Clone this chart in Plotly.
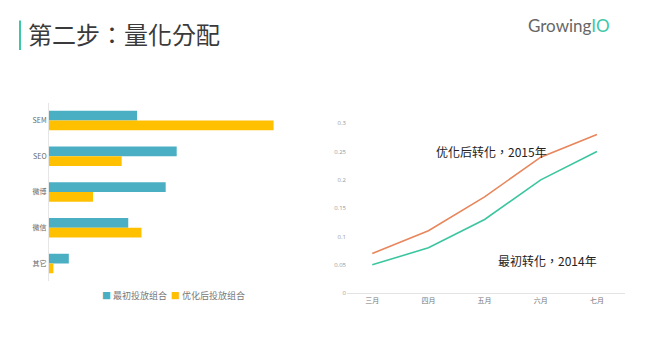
import plotly.graph_objects as go

# Channel mix (share of budget, %)
channels = ["SEM", "SEO", "微博", "微信", "其它"]
initial_mix = [20, 29, 26.5, 18, 4.5]
optimized_mix = [51, 16.5, 10, 21, 1]
mix_names = ["最初投放组合", "优化后投放组合"]

# Monthly conversion rate
months = ["三月", "四月", "五月", "六月", "七月"]
conv_2014 = [0.05, 0.08, 0.13, 0.20, 0.25]
conv_2015 = [0.07, 0.11, 0.17, 0.24, 0.28]
y_ticks = [0, 0.05, 0.1, 0.15, 0.2, 0.25, 0.3]
y_tick_text = ["0", "0.05", "0.1", "0.15", "0.2", "0.25", "0.3"]

TEAL_BAR = "#4BAFC4"
GOLD_BAR = "#FFC000"
LINE_2015 = "#E8865C"
LINE_2014 = "#3CC6A0"
BRAND = "#3CC8A8"
CJK = "Noto Sans CJK SC"
CJK_PUNCT = "Noto Sans CJK TC"  # centred full-width punctuation

W, H = 648, 344


def px(x):
    return x / W


def py(y):
    return 1 - y / H


fig = go.Figure()

fig.add_trace(go.Bar(
    y=channels, x=initial_mix, orientation="h", name=mix_names[0],
    marker=dict(color=TEAL_BAR, line=dict(width=0)),
    xaxis="x", yaxis="y", showlegend=False,
))
fig.add_trace(go.Bar(
    y=channels, x=optimized_mix, orientation="h", name=mix_names[1],
    marker=dict(color=GOLD_BAR, line=dict(width=0)),
    xaxis="x", yaxis="y", showlegend=False,
))

fig.add_trace(go.Scatter(
    x=months, y=conv_2015, mode="lines", name="优化后转化，2015年",
    line=dict(color=LINE_2015, width=1.6),
    xaxis="x2", yaxis="y2", showlegend=False,
))
fig.add_trace(go.Scatter(
    x=months, y=conv_2014, mode="lines", name="最初转化，2014年",
    line=dict(color=LINE_2014, width=1.6),
    xaxis="x2", yaxis="y2", showlegend=False,
))

annotations = [
    # page title and brand
    dict(text="第二步：量化分配", x=px(26), y=py(30), xref="paper", yref="paper",
         xanchor="left", yanchor="middle", showarrow=False,
         font=dict(family=CJK_PUNCT, size=24, color="#3a3a3a")),
    dict(text='<span style="color:#666666">Growing</span><span style="color:%s">IO</span>' % BRAND,
         x=px(612), y=py(22), xref="paper", yref="paper",
         xanchor="right", yanchor="middle", showarrow=False,
         font=dict(family="Lato", size=17)),
    # bar legend
    dict(text='<span style="color:%s">■</span> %s  <span style="color:%s">■</span> %s'
              % (TEAL_BAR, mix_names[0], GOLD_BAR, mix_names[1]),
         x=px(100), y=py(298), xref="paper", yref="paper",
         xanchor="left", yanchor="middle", showarrow=False,
         font=dict(family=CJK, size=9, color="#777777")),
    # line labels
    dict(text="优化后转化，2015年", x=months[2], y=0.25, xref="x2", yref="y2",
         xanchor="left", yanchor="middle", showarrow=False, xshift=-51,
         font=dict(family=CJK_PUNCT, size=12, color="#222222")),
    dict(text="最初转化，2014年", x=months[4], y=0.058, xref="x2", yref="y2",
         xanchor="right", yanchor="middle", showarrow=False, xshift=2,
         font=dict(family=CJK_PUNCT, size=12, color="#222222")),
]

shapes = [
    dict(type="line", xref="paper", yref="paper",
         x0=px(20), x1=px(20), y0=py(17), y1=py(47),
         line=dict(color=BRAND, width=2)),
]

fig.update_layout(
    width=W, height=H,
    margin=dict(l=0, r=0, t=0, b=0),
    paper_bgcolor="white", plot_bgcolor="white",
    barmode="group", bargap=0.45, bargroupgap=0,
    font=dict(family=CJK, color="#777777"),
    xaxis=dict(domain=[px(49), px(300)], range=[0, 57],
               showticklabels=False, showgrid=False, zeroline=False,
               showline=False, ticks=""),
    yaxis=dict(domain=[py(284), py(101)], autorange="reversed",
               type="category", anchor="x",
               showgrid=False, zeroline=False,
               showline=True, linecolor="#E6E6E6", linewidth=1,
               ticks="", tickfont=dict(family=CJK, size=7, color="#666666")),
    xaxis2=dict(domain=[px(347), px(625)], range=[-0.45, 4.5],
                type="category", anchor="y2",
                showgrid=False, zeroline=False,
                showline=True, linecolor="#E3E3E3", linewidth=1,
                ticks="", tickfont=dict(family=CJK, size=7, color="#777777")),
    yaxis2=dict(domain=[py(296), py(122)], range=[0, 0.3], anchor="x2",
                tickvals=y_ticks, ticktext=y_tick_text,
                showgrid=False, zeroline=False, showline=False, ticks="",
                tickfont=dict(family="Open Sans", size=6, color="#999999")),
    annotations=annotations,
    shapes=shapes,
)

fig.write_html("out.html")
